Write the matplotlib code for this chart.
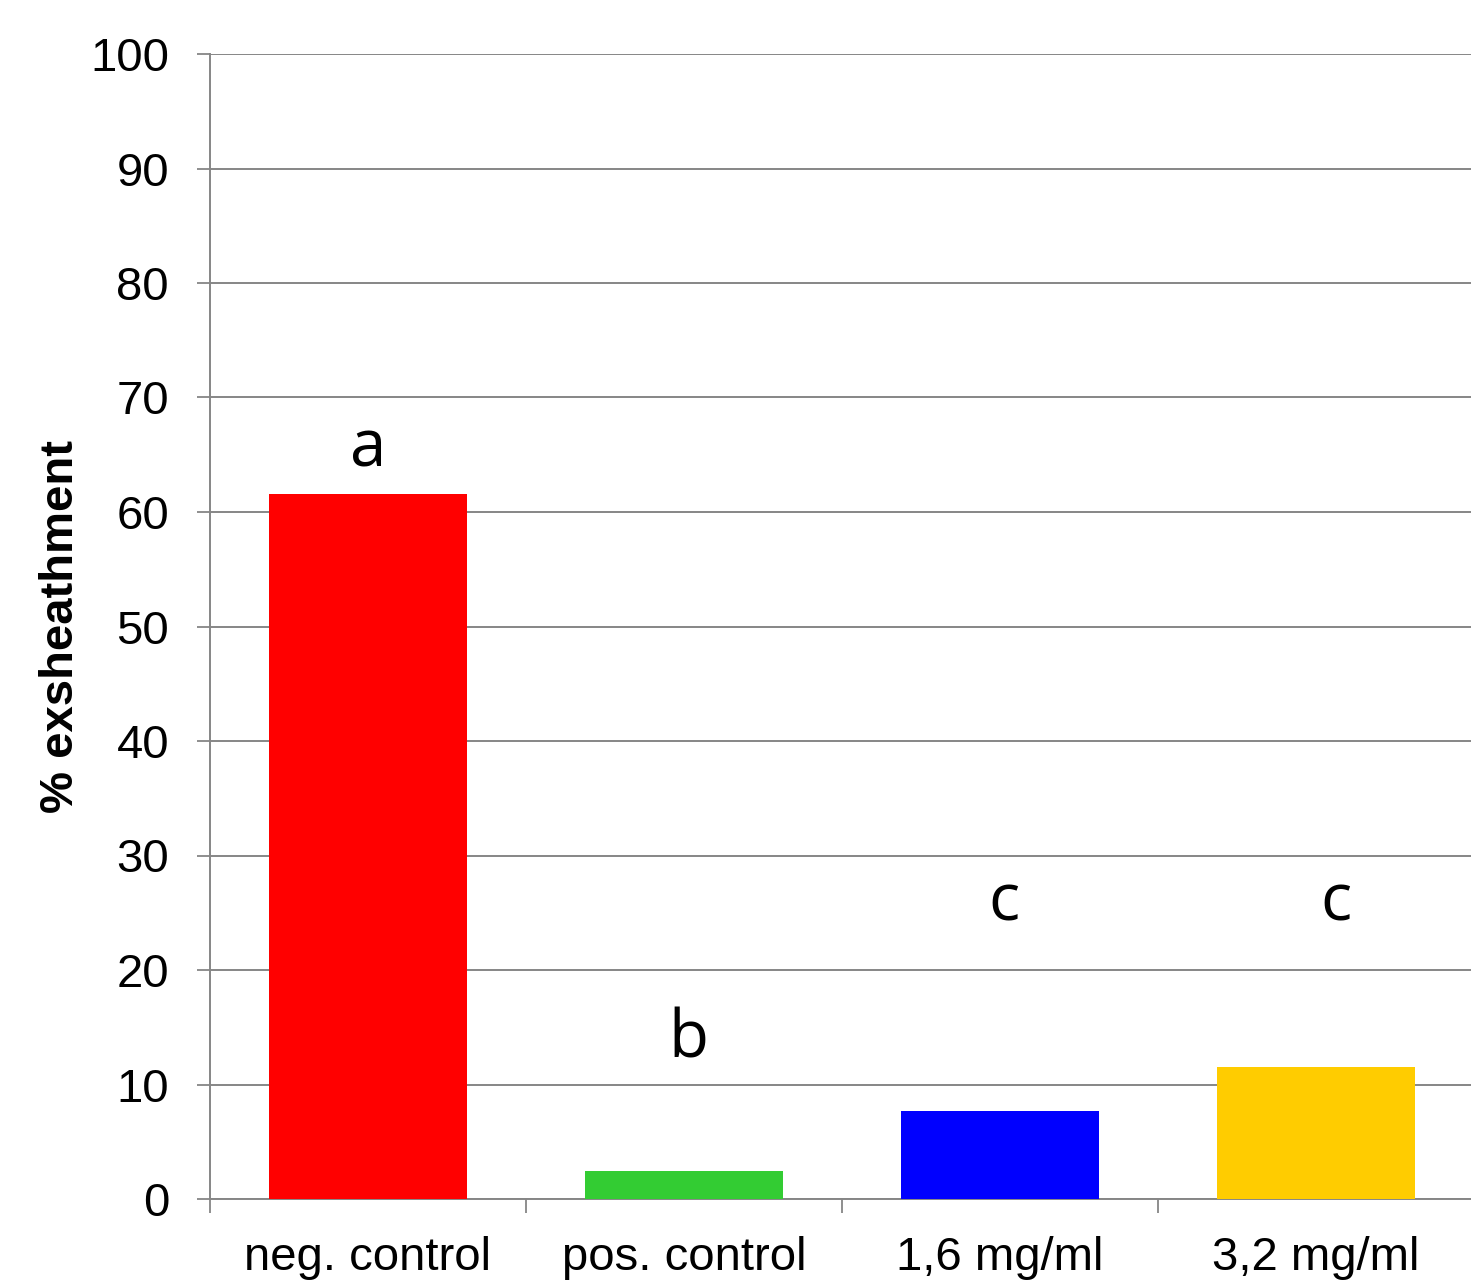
import matplotlib.pyplot as plt
from matplotlib import font_manager as fm

categories = ["neg. control", "pos. control", "1,6 mg/ml", "3,2 mg/ml"]
values = [61.6, 2.45, 7.7, 11.5]
colors = ["#FF0000", "#33CC33", "#0000FF", "#FFCC00"]
letters = ["a", "b", "c", "c"]
letter_y = [64.0, 12.4, 24.3, 24.3]
letter_dx = [0.0, 0.015, 0.012, 0.063]
y_ticks = list(range(0, 101, 10))

GRID = "#868686"

# pick the regular-width Liberation Sans Bold, not the Narrow one
bold_file = None
for f in fm.findSystemFonts():
    if f.endswith("LiberationSans-Bold.ttf"):
        bold_file = f
        break
if bold_file:
    label_font = fm.FontProperties(fname=bold_file, size=34)
else:
    label_font = fm.FontProperties(family="DejaVu Sans", weight="bold", size=30)

fig = plt.figure(figsize=(14.71, 12.85), dpi=100)
ax = fig.add_axes([210 / 1471, 86 / 1285, 1264 / 1471, 1145 / 1285])

x = list(range(len(categories)))
ax.bar(x, values, width=0.627, color=colors, zorder=3)

for i, (lab, ly, dx) in enumerate(zip(letters, letter_y, letter_dx)):
    ax.text(i + dx, ly, lab, ha="center", va="baseline",
            fontsize=47, family="Open Sans", zorder=4)

ax.set_xlim(-0.5, 3.5)
ax.set_ylim(0, 100)
ax.set_yticks(y_ticks)
ax.set_xticks(x)
ax.set_xticklabels(categories, fontsize=34, family="Liberation Sans")
ax.set_xticks([i - 0.5 for i in range(len(categories) + 1)], minor=True)
ax.tick_params(axis="x", which="major", length=0, pad=27)
ax.tick_params(axis="x", which="minor", length=10, width=1.3, color=GRID)
ax.tick_params(axis="y", length=9.5, width=1.3, color=GRID, pad=20, labelsize=34)
for t in ax.get_yticklabels():
    t.set_family("Liberation Sans")

ax.grid(axis="y", color=GRID, linewidth=1.4, zorder=0)
ax.set_axisbelow(True)
for side in ["top", "right"]:
    ax.spines[side].set_visible(False)
for side in ["left", "bottom"]:
    ax.spines[side].set_color(GRID)
    ax.spines[side].set_linewidth(1.4)

ax.set_ylabel("% exsheathment", fontproperties=label_font)
ax.yaxis.set_label_coords(-0.1005, 0.5)

fig.savefig("out.png", dpi=100)
